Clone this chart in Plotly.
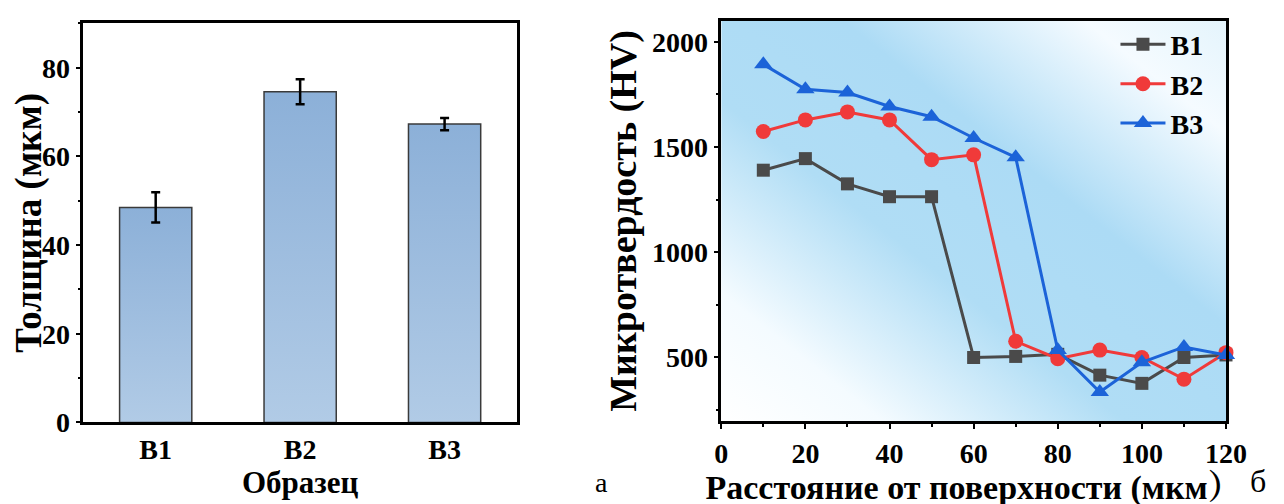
import base64
import plotly.graph_objects as go

# ---------------- data ----------------
samples = ["B1", "B2", "B3"]
thickness = [48.5, 74.6, 67.3]
thickness_err = [3.4, 2.8, 1.4]

depth = [10, 20, 30, 40, 50, 60, 70, 80, 90, 100, 110, 120]
hv_b1 = [1390, 1445, 1325, 1264, 1264, 500, 505, 515, 416, 377, 500, 512]
hv_b2 = [1574, 1629, 1667, 1629, 1440, 1463, 577, 494, 535, 500, 397, 523]
hv_b3 = [1893, 1775, 1759, 1693, 1644, 1543, 1451, 535, 336, 477, 550, 512]

# ---------------- style ----------------
FONT = "Liberation Serif, Times New Roman, Noto Serif CJK SC, Noto Sans CJK SC, serif"
BAR_W = 0.5
series = [
    ("B1", hv_b1, "#4a4a4a", "square", 13),
    ("B2", hv_b2, "#f03a3a", "circle", 15),
    ("B3", hv_b3, "#1c63d8", "triangle-up", 16),
]

fig = go.Figure()

# bars (gradient fill) built from the data through the axis scale
for i, (name, v) in enumerate(zip(samples, thickness)):
    fig.add_trace(go.Scatter(
        x=[i - BAR_W / 2, i - BAR_W / 2, i + BAR_W / 2, i + BAR_W / 2, i - BAR_W / 2],
        y=[0, v, v, 0, 0],
        mode="lines", fill="toself",
        fillgradient=dict(type="vertical",
                          colorscale=[[0, "#b1cbe6"], [1, "#8cb0d8"]]),
        line=dict(color="#3a3a3a", width=1.5),
        name=name, showlegend=False, hoverinfo="skip",
        xaxis="x", yaxis="y",
    ))

# error bars
fig.add_trace(go.Scatter(
    x=list(range(len(samples))), y=thickness, mode="markers",
    marker=dict(size=1, color="rgba(0,0,0,0)"),
    error_y=dict(type="data", array=thickness_err, color="black",
                 thickness=2.5, width=4.5),
    showlegend=False, xaxis="x", yaxis="y",
))

# microhardness lines
for name, vals, col, sym, sz in series:
    fig.add_trace(go.Scatter(
        x=depth, y=vals, mode="lines+markers", name=name,
        line=dict(color=col, width=3),
        marker=dict(symbol=sym, size=sz, color=col),
        cliponaxis=False,
        xaxis="x2", yaxis="y2",
    ))

# background gradient of right panel
svg = (
    "<svg xmlns='http://www.w3.org/2000/svg' width='200' height='200' "
    "preserveAspectRatio='none' viewBox='0 0 200 200'>"
    "<defs><linearGradient id='g' x1='0' y1='1' x2='1' y2='0'>"
    "<stop offset='0' stop-color='#ffffff'/>"
    "<stop offset='0.16' stop-color='#f4fbff'/>"
    "<stop offset='0.40' stop-color='#b0ddf5'/>"
    "<stop offset='0.62' stop-color='#acdbf5'/>"
    "<stop offset='0.86' stop-color='#f5fbff'/>"
    "<stop offset='1' stop-color='#e4f4fc'/>"
    "</linearGradient></defs>"
    "<rect width='200' height='200' fill='url(#g)'/></svg>"
)
src = "data:image/svg+xml;base64," + base64.b64encode(svg.encode()).decode()

W, H = 1284, 504
axis_common = dict(
    showline=True, linecolor="black", linewidth=2.5, mirror=True,
    showgrid=False, zeroline=False,
    tickfont=dict(family=FONT, size=28, color="black", weight="bold"),
    ticks="outside", ticklen=5, tickwidth=2, tickcolor="black",
)

fig.update_layout(
    width=W, height=H,
    margin=dict(l=0, r=0, t=0, b=0),
    paper_bgcolor="white", plot_bgcolor="rgba(0,0,0,0)",
    font=dict(family=FONT, color="black"),
    xaxis=dict(
        domain=[70 / W, 513 / W], range=[-0.5, 2.5],
        tickvals=list(range(len(samples))), ticktext=samples,
        **{**axis_common, "ticks": "", "ticklen": 0},
        title=dict(text="Образец", standoff=2,
                   font=dict(family=FONT, size=31, weight="bold")),
    ),
    yaxis=dict(
        domain=[1 - 428 / H, 1 - 16 / H], range=[0, 90],
        dtick=20, anchor="x",
        minor=dict(dtick=10, ticks="outside", ticklen=3, tickwidth=2, tickcolor="black"),
        **axis_common,
        title=dict(text="Толщина (мкм)", standoff=6,
                   font=dict(family=FONT, size=37, weight="bold")),
    ),
    xaxis2=dict(
        domain=[722 / W, 1238 / W], range=[0, 120], dtick=20, anchor="y2",
        minor=dict(dtick=10, ticks="outside", ticklen=3, tickwidth=2, tickcolor="black"),
        **axis_common,
        title=dict(text="Расстояние от поверхности (мкм）", standoff=0,
                   font=dict(family=FONT, size=34, weight="bold")),
    ),
    yaxis2=dict(
        domain=[1 - 427 / H, 1 - 13 / H], range=[196, 2101], dtick=500, anchor="x2",
        minor=dict(dtick=250, ticks="outside", ticklen=3, tickwidth=2, tickcolor="black"),
        **axis_common,
        title=dict(text="Микротвердость (HV)", standoff=4,
                   font=dict(family=FONT, size=38, weight="bold")),
    ),
    legend=dict(
        x=1125 / W, y=1 - 12 / H, xanchor="left", yanchor="top",
        bgcolor="rgba(0,0,0,0)", borderwidth=0,
        font=dict(family=FONT, size=28, color="black", weight="bold"),
        itemwidth=45, tracegroupgap=0,
    ),
    images=[dict(
        source=src, xref="x2 domain", yref="y2 domain",
        x=0, y=1, sizex=1, sizey=1, xanchor="left", yanchor="top",
        sizing="stretch", layer="below",
    )],
    annotations=[
        dict(text="а", x=600 / W, y=1 - 490 / H, xref="paper", yref="paper",
             xanchor="center", yanchor="middle",
             showarrow=False, font=dict(family=FONT, size=28, color="black")),
        dict(text="б", x=1271 / W, y=1 - 489 / H, xref="paper", yref="paper",
             xanchor="center", yanchor="middle",
             showarrow=False, font=dict(family=FONT, size=32, color="black")),
    ],
)

fig.write_html("out.html")
